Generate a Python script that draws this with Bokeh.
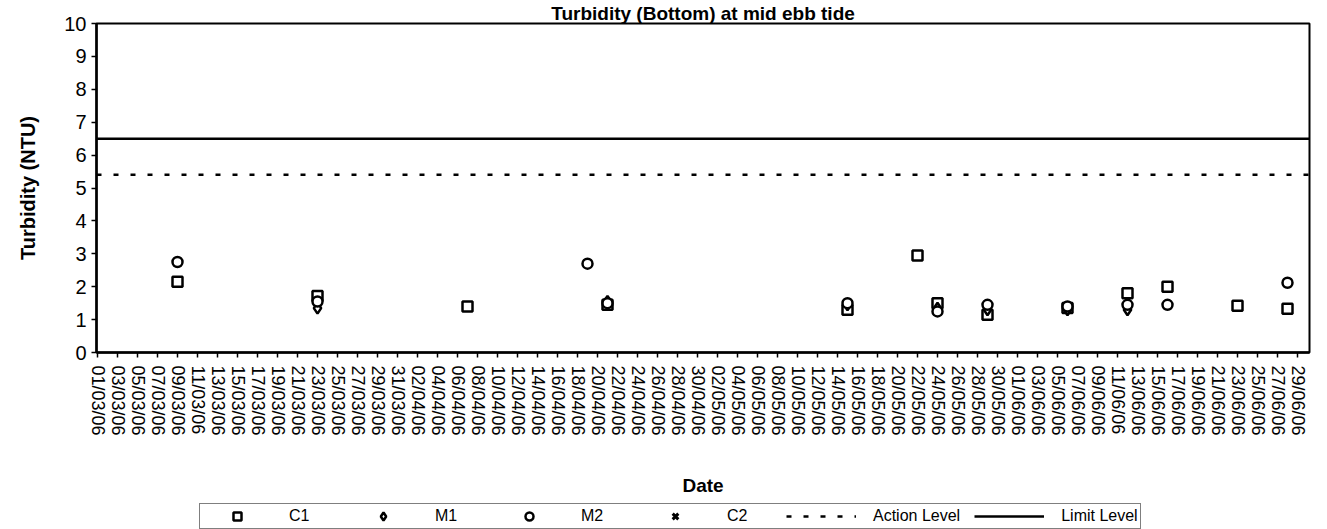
import math
from datetime import date
from bokeh.plotting import figure
from bokeh.layouts import column
from bokeh.models import Range1d, FixedTicker, Legend, LegendItem
from bokeh.embed import file_html
from bokeh.resources import INLINE

# ---- data ----
tick_labels = [
    "01/03/06", "03/03/06", "05/03/06", "07/03/06", "09/03/06", "11/03/06", "13/03/06", "15/03/06",
    "17/03/06", "19/03/06", "21/03/06", "23/03/06", "25/03/06", "27/03/06", "29/03/06", "31/03/06",
    "02/04/06", "04/04/06", "06/04/06", "08/04/06", "10/04/06", "12/04/06", "14/04/06", "16/04/06",
    "18/04/06", "20/04/06", "22/04/06", "24/04/06", "26/04/06", "28/04/06", "30/04/06",
    "02/05/06", "04/05/06", "06/05/06", "08/05/06", "10/05/06", "12/05/06", "14/05/06", "16/05/06",
    "18/05/06", "20/05/06", "22/05/06", "24/05/06", "26/05/06", "28/05/06", "30/05/06",
    "01/06/06", "03/06/06", "05/06/06", "07/06/06", "09/06/06", "11/06/06", "13/06/06", "15/06/06",
    "17/06/06", "19/06/06", "21/06/06", "23/06/06", "25/06/06", "27/06/06", "29/06/06",
]

c1_dates = ["09/03/06", "23/03/06", "07/04/06", "21/04/06", "15/05/06", "22/05/06", "24/05/06",
            "29/05/06", "06/06/06", "12/06/06", "16/06/06", "23/06/06", "28/06/06"]
c1_vals = [2.15, 1.72, 1.40, 1.45, 1.30, 2.95, 1.50, 1.15, 1.35, 1.80, 2.00, 1.42, 1.33]

m1_dates = ["23/03/06", "21/04/06", "15/05/06", "24/05/06", "29/05/06", "06/06/06", "12/06/06"]
m1_vals = [1.35, 1.55, 1.45, 1.35, 1.30, 1.30, 1.30]

m2_dates = ["09/03/06", "23/03/06", "19/04/06", "21/04/06", "15/05/06", "24/05/06", "29/05/06",
            "06/06/06", "12/06/06", "16/06/06", "28/06/06"]
m2_vals = [2.75, 1.55, 2.70, 1.50, 1.50, 1.25, 1.45, 1.40, 1.45, 1.45, 2.12]

c2_dates = []
c2_vals = []

action_level = 5.4
limit_level = 6.5

series_names = ["C1", "M1", "M2", "C2", "Action Level", "Limit Level"]
title_text = "Turbidity (Bottom) at mid ebb tide"
y_title = "Turbidity (NTU)"
x_title = "Date"

START = date(2006, 3, 1)


def day_index(s):
    d, m, y = s.split("/")
    return (date(2000 + int(y), int(m), int(d)) - START).days


FONT = "Liberation Sans"
x_lo, x_hi = -0.1, 121.2

MARKERS = {
    "C1": dict(marker="square", size=10, fill_color="white", line_color="black", line_width=2.5),
    "M1": dict(marker="diamond", size=11, fill_color="white", line_color="black", line_width=2.5),
    "M2": dict(marker="circle", size=10, fill_color="white", line_color="black", line_width=2.5),
    "C2": dict(marker="x", size=12, line_color="black", line_width=3),
}
ACTION_STYLE = dict(line_color="black", line_width=2.5, line_dash="5 12")
LIMIT_STYLE = dict(line_color="black", line_width=2.5)

p = figure(frame_width=1213, frame_height=329, output_backend="svg", toolbar_location=None,
           x_range=Range1d(x_lo, x_hi), y_range=Range1d(0, 10),
           min_border_left=96, min_border_right=4, min_border_top=0, min_border_bottom=0)

p.title.text = title_text
p.title.align = "center"
p.title.text_font = FONT
p.title.text_font_size = "19px"
p.title.text_font_style = "bold"
p.title.text_color = "black"
p.title.standoff = 0

p.xgrid.visible = False
p.ygrid.visible = False
p.outline_line_color = "black"
p.outline_line_width = 2
p.background_fill_color = "white"
p.border_fill_color = "white"

# axes
tick_pos = [day_index(t) for t in tick_labels]
p.xaxis.ticker = FixedTicker(ticks=tick_pos)
p.xaxis.major_label_overrides = {pos: lab for pos, lab in zip(tick_pos, tick_labels)}
p.xaxis.major_label_orientation = -math.pi / 2
p.xaxis.major_label_text_font = FONT
p.xaxis.major_label_text_font_size = "18px"
p.xaxis.major_label_standoff = 8
p.xaxis.axis_label = x_title
p.xaxis.axis_label_text_font = FONT
p.xaxis.axis_label_text_font_size = "19px"
p.xaxis.axis_label_text_font_style = "bold"
p.xaxis.axis_label_standoff = 36

p.yaxis.ticker = FixedTicker(ticks=list(range(0, 11)))
p.yaxis.major_label_text_font = FONT
p.yaxis.major_label_text_font_size = "20px"
p.yaxis.axis_label = y_title
p.yaxis.axis_label_text_font = FONT
p.yaxis.axis_label_text_font_size = "20px"
p.yaxis.axis_label_text_font_style = "bold"
p.yaxis.axis_label_standoff = 22

for ax in (p.xaxis, p.yaxis):
    ax.axis_line_color = "black"
    ax.axis_line_width = 2.5
    ax.major_tick_line_color = "black"
    ax.major_tick_line_width = 1.5
    ax.major_tick_in = 0
    ax.major_tick_out = 5
    ax.minor_tick_line_color = None
    ax.major_label_text_color = "black"
    ax.axis_label_text_color = "black"

# levels
p.line([x_lo, x_hi], [action_level, action_level], **ACTION_STYLE)
p.line([x_lo, x_hi], [limit_level, limit_level], **LIMIT_STYLE)

# series
p.scatter([day_index(d) for d in c1_dates], c1_vals, **MARKERS["C1"])
p.scatter([day_index(d) for d in m1_dates], m1_vals, **MARKERS["M1"])
p.scatter([day_index(d) for d in m2_dates], m2_vals, **MARKERS["M2"])
p.scatter([day_index(d) for d in c2_dates], c2_vals, **MARKERS["C2"])

# ---- legend strip: separate figure whose renderers only carry the styles ----
lg = figure(width=1313, height=32, output_backend="svg", toolbar_location=None,
            x_axis_type=None, y_axis_type=None, x_range=Range1d(0, 1), y_range=Range1d(0, 1),
            min_border_left=0, min_border_right=0, min_border_top=0, min_border_bottom=0)
lg.outline_line_color = None
lg.xgrid.visible = False
lg.ygrid.visible = False
lg.background_fill_color = "white"
lg.border_fill_color = "white"

# style carriers placed outside the visible range (legend swatches only)
legend_renderers = [lg.scatter([-5], [-5], **MARKERS[n]) for n in series_names[:4]]
legend_renderers.append(lg.line([-6, -5], [-5, -5], **ACTION_STYLE))
legend_renderers.append(lg.line([-6, -5], [-5, -5], **LIMIT_STYLE))

legend = Legend(items=[LegendItem(label=n, renderers=[r]) for n, r in zip(series_names, legend_renderers)],
                orientation="horizontal", location=(103, 1))
legend.label_text_font = FONT
legend.label_text_font_size = "16px"
legend.label_text_color = "black"
legend.glyph_width = 70
legend.glyph_height = 20
legend.label_height = 16
legend.label_standoff = 17
legend.label_width = 45
legend.spacing = 14
legend.padding = 2
legend.margin = 0
legend.border_line_color = "black"
legend.border_line_width = 1.5
legend.background_fill_color = "white"
legend.background_fill_alpha = 1
lg.add_layout(legend, "center")

layout = column(p, lg, spacing=0)
open("out.html", "w").write(file_html(layout, INLINE))
